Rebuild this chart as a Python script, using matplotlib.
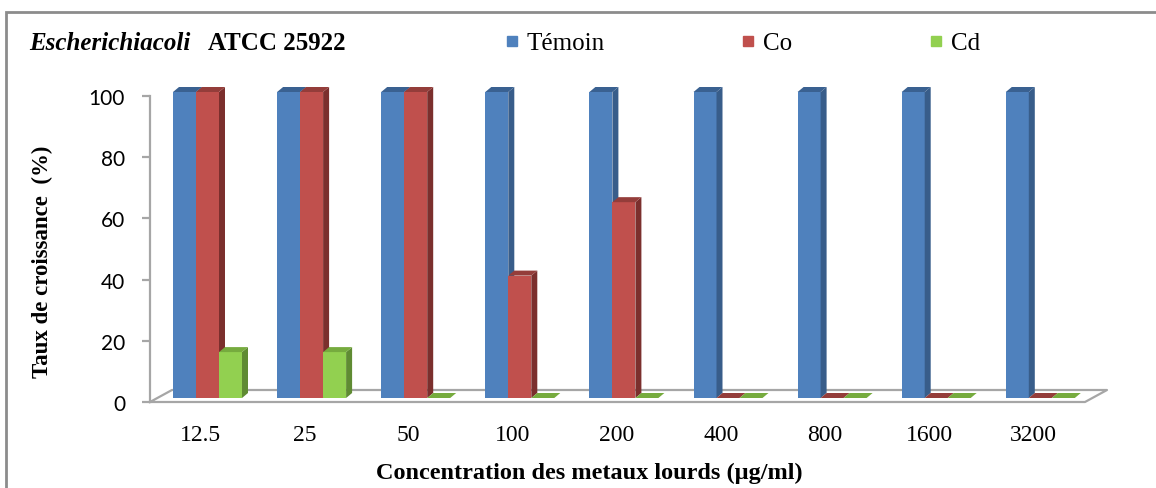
import numpy as np
import matplotlib.pyplot as plt
from matplotlib.patches import Polygon, Rectangle
from matplotlib.lines import Line2D

concentrations = ['12.5', '25', '50', '100', '200', '400', '800', '1600', '3200']
temoin = [100, 100, 100, 100, 100, 100, 100, 100, 100]
co = [100, 100, 100, 40, 64, 0, 0, 0, 0]
cd = [15, 15, 0, 0, 0, 0, 0, 0, 0]

series = [('Témoin', temoin, '#4F81BD', '#3A6191', '#385D8A'),
          ('Co', co, '#C0504D', '#943D3A', '#7B2F2D'),
          ('Cd', cd, '#92D050', '#76AB3E', '#5F8B33')]

W, H = 1156, 489
fig = plt.figure(figsize=(W / 100, H / 100), dpi=100)

# plot area: left edge of floor at x=150px, y=0 at 403px, y=100 at 97px
ax = fig.add_axes([150 / W, (H - 403) / H, (1107 - 150) / W, (403 - 97) / H])
px = 104.1                      # pixels per category
xmin, xmax = (150 - 173) / px, (1107 - 173) / px
ax.set_xlim(xmin, xmax)
ax.set_ylim(0, 100)

w = 23 / px                     # bar width
dx, dy = 6 / px, 5 / 3.06       # depth of the 3D effect
base = 4 / 3.06                 # bars stand slightly behind the front edge

# floor of the 3D chart
fx, fy = 22 / px, 12 / 3.06
floor_x = [xmin, xmax - fx, xmax, xmin + fx, xmin]
floor_y = [0, 0, fy, fy, 0]
ax.plot(floor_x, floor_y, color='#A6A6A6', lw=1.6, clip_on=False, zorder=1)

x = np.arange(len(concentrations))
for i in range(len(concentrations)):
    for k, (name, vals, front, top, side) in enumerate(series):
        x0 = i + k * w
        v = vals[i]
        y0, y1 = base, base + v
        z = 2 + i * 3 + k
        ax.bar(x0, v, width=w, bottom=base, align='edge', color=front,
               lw=0, zorder=z, clip_on=False)
        ax.add_patch(Polygon([(x0 + w, y0), (x0 + w, y1), (x0 + w + dx, y1 + dy),
                              (x0 + w + dx, y0 + dy)], closed=True, fc=side,
                             lw=0, zorder=z, clip_on=False))
        ax.add_patch(Polygon([(x0, y1), (x0 + w, y1), (x0 + w + dx, y1 + dy),
                              (x0 + dx, y1 + dy)], closed=True, fc=top,
                             lw=0, zorder=z, clip_on=False))

for s in ['top', 'right', 'bottom']:
    ax.spines[s].set_visible(False)
ax.spines['left'].set_color('#A6A6A6')
ax.spines['left'].set_linewidth(1.6)
ax.set_yticks(np.arange(0, 101, 20))
ax.tick_params(axis='y', length=6, width=1.6, color='#A6A6A6', pad=12,
               labelsize=15)
for t in ax.get_yticklabels():
    t.set_fontfamily('Lato')
ax.set_xticks(x + 1.5 * w - 7 / px)
ax.set_xticklabels(concentrations, fontfamily='Liberation Serif', fontsize=17)
ax.tick_params(axis='x', length=0, pad=16)
ax.patch.set_visible(False)

fig.text(589 / W, 1 - 473 / H, 'Concentration des metaux lourds (µg/ml)',
         ha='center', va='center', fontfamily='Liberation Serif',
         fontweight='bold', fontsize=17.5)
fig.text(42 / W, 1 - 262 / H, 'Taux de croissance  (%)', rotation=90,
         ha='center', va='center', fontfamily='Liberation Serif',
         fontweight='bold', fontsize=16.5)

fig.text(29 / W, 1 - 44 / H, 'Escherichiacoli', ha='left', va='center',
         fontfamily='Liberation Serif', fontweight='bold', fontstyle='italic',
         fontsize=18)
fig.text(208 / W, 1 - 44 / H, 'ATCC 25922', ha='left', va='center',
         fontfamily='Liberation Serif', fontweight='bold', fontsize=18)

handles = [Line2D([], [], marker='s', ls='none', markersize=7, color=c[2])
           for c in series]
fig.legend(handles, [c[0] for c in series], ncol=3, loc='center left',
           bbox_to_anchor=(504 / W, 1 - 44 / H), frameon=False,
           prop={'family': 'Liberation Serif', 'size': 18},
           handlelength=0.6, handletextpad=0.3, columnspacing=5.45,
           borderaxespad=0, borderpad=0)

# chart frame
fig.add_artist(Rectangle((6 / W, -0.1), 1.2, 1.1 - 13 / H, transform=fig.transFigure,
                         fill=False, ec='#8C8C8C', lw=2))

fig.savefig('out.png', dpi=100)
